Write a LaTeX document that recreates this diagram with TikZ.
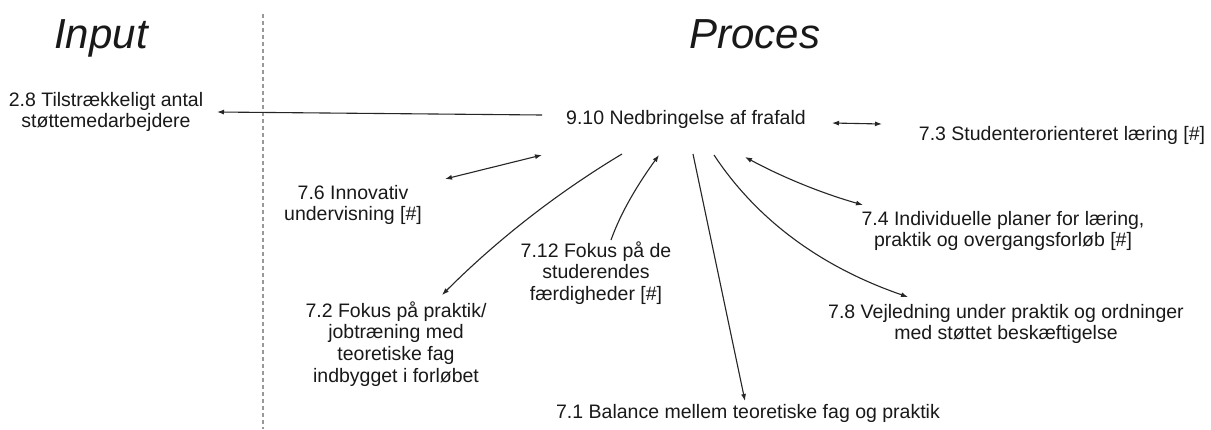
\documentclass[tikz,border=0pt]{standalone}
\usepackage{fontspec}
\setmainfont{Liberation Sans}
\usetikzlibrary{calc,arrows.meta}
\begin{document}
\begin{tikzpicture}[x=1pt,y=-1pt,
  lbl/.style={inner sep=0pt,align=center,text=black!90,font=\fontsize{19.5}{21.7}\selectfont},
  ttl/.style={inner sep=0pt,anchor=base,text=black!90,font=\fontsize{42}{50}\selectfont\itshape},
  conn/.style={line width=1.1pt,draw=black!85},
  tip/.style={-{Latex[length=7pt,width=5pt]}},
  tips/.style={{Latex[length=7pt,width=5pt]}-{Latex[length=7pt,width=5pt]}}]
% canvas
\fill[white] (0,0) rectangle (1211,429);
\useasboundingbox (0,0) rectangle (1211,429);

% column divider
\coordinate (divtop) at (263,14);
\coordinate (divbot) at (263,429);
\draw[black!40,line width=1.2pt,dash pattern=on 4pt off 3pt] (divtop) -- (divbot);

% headings
\node[ttl] (hin) at (101,48) {Input};
\node[ttl] (hproc) at (755,48) {Proces};

% items
\node[lbl] (in28) at (106,112) {2.8 Tilstrækkeligt antal\\støttemedarbejdere};
\node[lbl] (n910) at (686,119) {9.10 Nedbringelse af frafald};
\node[lbl] (n73)  at (1062,135) {7.3 Studenterorienteret læring [\#]};
\node[lbl] (n76)  at (353,205) {7.6 Innovativ\\undervisning [\#]};
\node[lbl] (n72)  at (396,344) {7.2 Fokus på praktik/\\jobtræning med\\teoretiske fag\\indbygget i forløbet};
\node[lbl] (n712) at (596,273) {7.12 Fokus på de\\studerendes\\færdigheder [\#]};
\node[lbl] (n74)  at (1003,231) {7.4 Individuelle planer for læring,\\praktik og overgangsforløb [\#]};
\node[lbl] (n78)  at (1006,324) {7.8 Vejledning under praktik og ordninger\\med støttet beskæftigelse};
\node[lbl] (n71)  at (748,413) {7.1 Balance mellem teoretiske fag og praktik};

% connectors
\draw[conn,tip] ($(n910)+(-144,-4)$) -- ($(in28)+(111,0)$);
\draw[conn,tips] ($(n910)+(146,4)$) -- ($(n73)+(-180,-11)$);
\draw[conn,tips] ($(n910)+(-144,36)$) -- ($(n76)+(92,-26)$);
\draw[conn,tip] ($(n910)+(-64,35)$) .. controls ($(n910)+(-129,74)$) and ($(n72)+(101,-104)$) .. ($(n72)+(46,-49)$);
\draw[conn,tip] ($(n712)+(15,-33)$) .. controls ($(n712)+(25,-61)$) and ($(n910)+(-48,65)$) .. ($(n910)+(-27,36)$);
\draw[conn,tip] ($(n910)+(7,35)$) -- ($(n71)+(-3,-12)$);
\draw[conn,tip] ($(n910)+(28,36)$) .. controls ($(n910)+(71,101)$) and ($(n78)+(-185,-57)$) .. ($(n78)+(-98,-27)$);
\draw[conn,tips] ($(n910)+(59,38)$) .. controls ($(n910)+(96,58)$) and ($(n74)+(-182,-38)$) .. ($(n74)+(-140,-26)$);
\end{tikzpicture}
\end{document}
